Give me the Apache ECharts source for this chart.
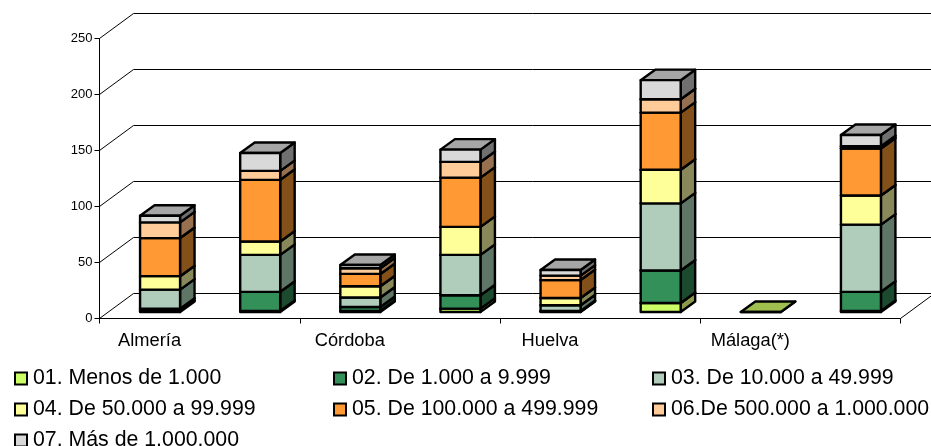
<!DOCTYPE html>
<html>
<head>
<meta charset="utf-8">
<style>
  html, body { margin: 0; padding: 0; background: #fff; }
  #chart { width: 931px; height: 446px; }
</style>
</head>
<body>
<div id="chart"></div>
<script src="https://cdn.jsdelivr.net/npm/echarts@6/dist/echarts.min.js"></script>
<script>
const categories = ['Almería', 'Cádiz', 'Córdoba', 'Granada', 'Huelva', 'Jaén', 'Málaga(*)', 'Sevilla']
const yTicks = [0, 50, 100, 150, 200, 250]

const names = [
  '01. Menos de 1.000',
  '02. De 1.000 a 9.999',
  '03. De 10.000 a 49.999',
  '04. De 50.000 a 99.999',
  '05. De 100.000 a 499.999',
  '06.De 500.000 a 1.000.000',
  '07. Más de 1.000.000'
]

const menos1000 = [1, 1, 1, 3, 0.5, 8, 0, 1]
const de1000 = [2, 17, 3.5, 12, 0.5, 29, 0, 17]
const de10000 = [17, 33, 8.5, 36, 5, 60, 0, 60]
const de50000 = [12, 12, 10, 25, 6.5, 30, 0, 26]
const de100000 = [34, 55, 11, 44, 16, 51, 0, 42]
const de500000 = [14, 8, 5, 14, 4, 12, 0, 2]
const mas1000000 = [6, 16, 3, 11, 5, 17, 0, 10]
const values = [menos1000, de1000, de10000, de50000, de100000, de500000, mas1000000]

// colores: frente, lateral, tapa
const fronts = ['#ccff66', '#339058', '#b0cdbb', '#ffff99', '#ff9933', '#ffcc99', '#d9d9d9']
const sides = ['#8a9a4a', '#1b4a2e', '#5f7566', '#88885a', '#83501a', '#96704f', '#707070']
const tops = ['#9fbf4f', '#267044', '#84a08d', '#bfbf73', '#bf7326', '#bf9973', '#a6a6a6']

// perspectiva del pseudo 3D
const wallDx = 34
const wallDy = -25
const barDx = 14.5
const barDy = -10.5
const barHalf = 20
const barOffsetX = 10.5
const barOffsetY = -6.5

const chart = echarts.init(document.getElementById('chart'), null, { renderer: 'canvas' })

function poly(points, fill) {
  return {
    type: 'polygon',
    shape: { points },
    style: { fill, stroke: '#000', lineWidth: 2.4, lineJoin: 'round' }
  }
}

function renderBar(s) {
  return (params, api) => {
    const base = api.coord([api.value(0), api.value(1)])
    const top = api.coord([api.value(0), api.value(2)])
    // solo la primera serie dibuja la tapa cuando el valor es 0 (Málaga)
    if (api.value(1) === api.value(2) && s > 0) return null
    const xl = base[0] + barOffsetX - barHalf
    const xr = base[0] + barOffsetX + barHalf
    const yb = base[1] + barOffsetY
    const yt = top[1] + barOffsetY
    return {
      type: 'group',
      children: [
        poly([[xr, yb], [xr + barDx, yb + barDy], [xr + barDx, yt + barDy], [xr, yt]], sides[s]),
        poly([[xl, yt], [xr, yt], [xr + barDx, yt + barDy], [xl + barDx, yt + barDy]], tops[s]),
        poly([[xl, yb], [xr, yb], [xr, yt], [xl, yt]], fronts[s])
      ]
    }
  }
}

function renderWall(params, api) {
  const y = api.coord([0, api.value(0)])[1]
  const left = params.coordSys.x
  const right = left + params.coordSys.width
  const children = [{
    type: 'polyline',
    shape: { points: [[left, y], [left + wallDx, y + wallDy], [right + wallDx, y + wallDy]] },
    style: { fill: 'none', stroke: '#000', lineWidth: 1 }
  }]
  if (api.value(0) === 0) {
    children.push({
      type: 'line',
      shape: { x1: right, y1: y, x2: right + wallDx, y2: y + wallDy },
      style: { stroke: '#000', lineWidth: 1 }
    })
  }
  return { type: 'group', children }
}

const barSeries = names.map((name, s) => {
  const data = categories.map((c, i) => {
    let start = 0
    for (let k = 0; k < s; k++) start += values[k][i]
    return [i, start, start + values[s][i]]
  })
  return {
    type: 'custom',
    name,
    data,
    clip: false,
    silent: true,
    itemStyle: { color: fronts[s] },
    encode: { x: 0, y: [1, 2] },
    renderItem: renderBar(s)
  }
})

const wallSeries = {
  type: 'custom',
  name: 'paredes',
  data: yTicks.map((t) => [t]),
  clip: false,
  silent: true,
  z: 1,
  encode: { y: 0 },
  renderItem: renderWall
}

function legendColumn(left, items) {
  return {
    orient: 'vertical',
    left,
    top: 368,
    height: 100,
    data: items,
    selectedMode: false,
    icon: 'rect',
    itemWidth: 12,
    itemHeight: 12,
    itemGap: 10,
    padding: 0,
    itemStyle: { borderColor: '#000', borderWidth: 2 },
    textStyle: {
      color: '#000',
      fontFamily: 'Liberation Sans',
      fontSize: 21.3,
      lineHeight: 20,
      padding: [0, 0, 0, 1]
    }
  }
}

chart.setOption({
  animation: false,
  backgroundColor: '#fff',
  textStyle: { fontFamily: 'Liberation Sans' },
  grid: { left: 99.5, right: 30.5, top: 38.5, bottom: 127.5 },
  legend: [
    legendColumn(14, [names[0], names[3], names[6]]),
    legendColumn(333, [names[1], names[4]]),
    legendColumn(652, [names[2], names[5]])
  ],
  xAxis: {
    type: 'category',
    data: categories,
    axisLine: { show: true, lineStyle: { color: '#000', width: 1 } },
    axisTick: { show: true, length: 5, lineStyle: { color: '#000' } },
    axisLabel: { color: '#000', fontSize: 18.3, margin: 13, fontFamily: 'Liberation Sans' }
  },
  yAxis: {
    type: 'value',
    min: 0,
    max: 250,
    interval: 50,
    axisLine: { show: true, lineStyle: { color: '#000', width: 1 } },
    axisTick: { show: true, length: 5, lineStyle: { color: '#000' } },
    axisLabel: { color: '#000', fontSize: 13, margin: 7, fontFamily: 'Liberation Sans' },
    splitLine: { show: false }
  },
  series: [wallSeries].concat(barSeries)
})
</script>
</body>
</html>
